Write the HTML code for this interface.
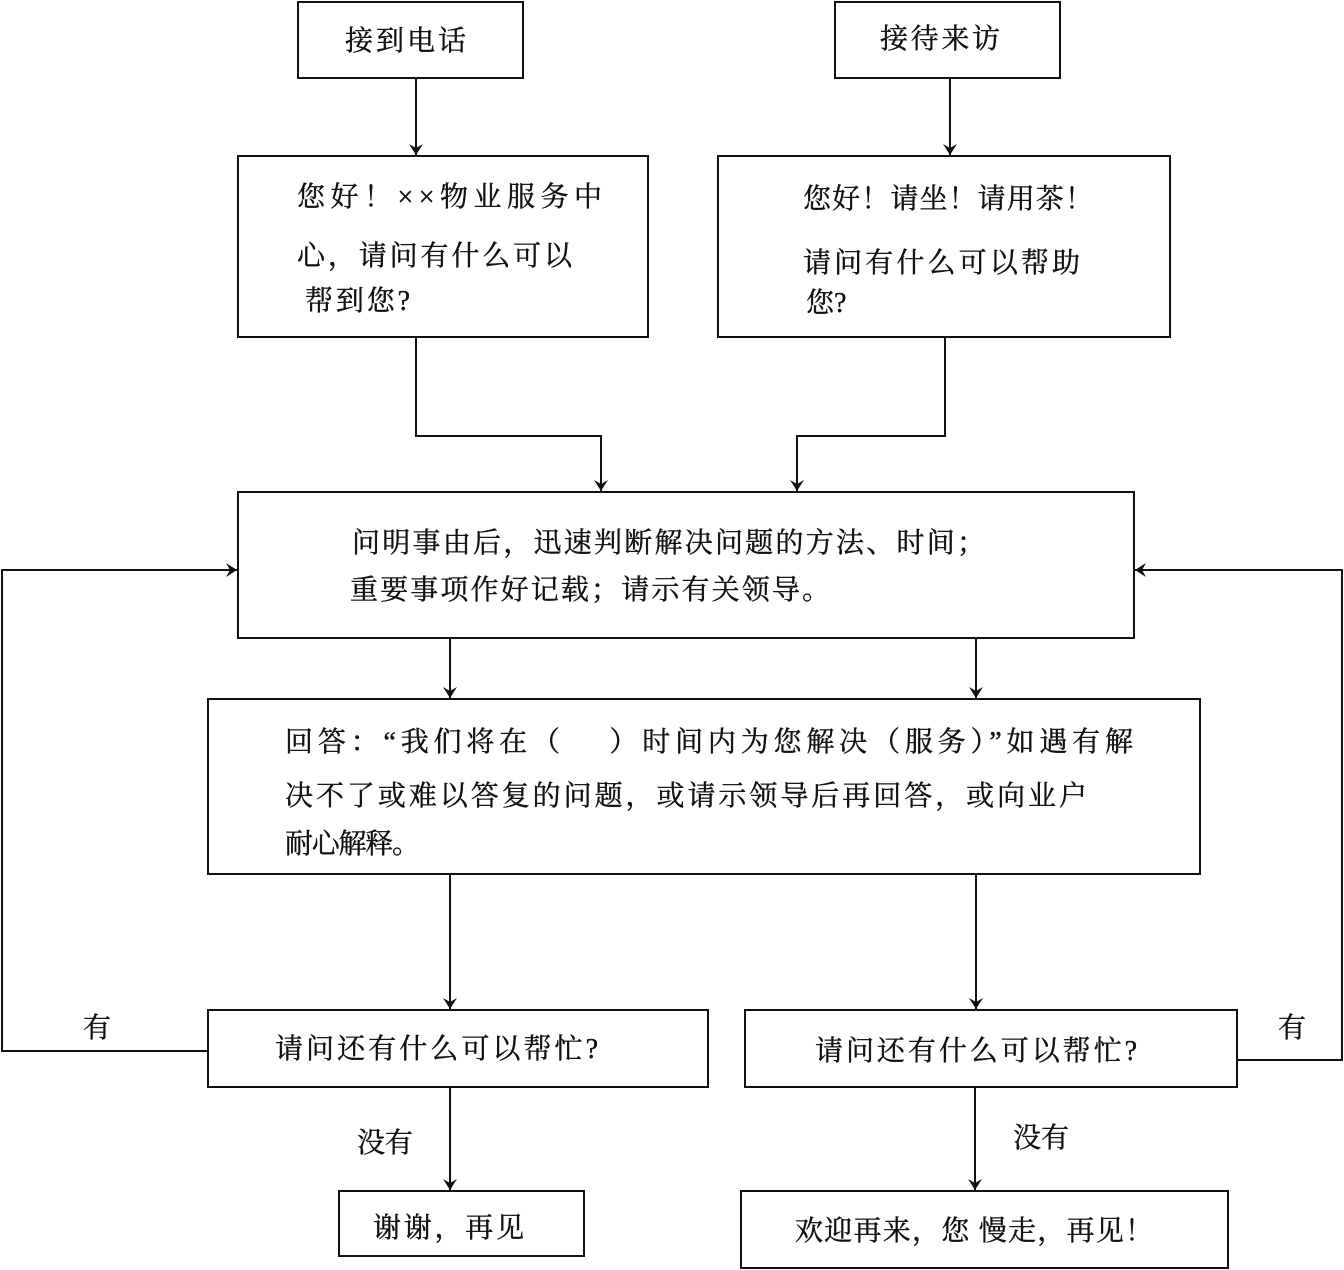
<!DOCTYPE html>
<html><head><meta charset="utf-8"><style>
html,body{margin:0;padding:0;background:#fff;}
svg{display:block;}
text{font-family:"Liberation Serif","Noto Serif CJK SC",serif;font-size:28px;fill:#111;stroke:#111;stroke-width:0.4;}
</style></head><body>
<svg width="1344" height="1270" viewBox="0 0 1344 1270" xmlns="http://www.w3.org/2000/svg">
<defs><marker id="a" markerWidth="12" markerHeight="22" refX="11" refY="11" orient="auto" markerUnits="userSpaceOnUse"><path d="M0,4 L11,11 L0,18 L4,11 Z" fill="#111"/></marker></defs>
<g fill="none" stroke="#111" stroke-width="2">
<rect x="298" y="2" width="225" height="76"/>
<rect x="835" y="2" width="225" height="76"/>
<rect x="238" y="156" width="410" height="181"/>
<rect x="718" y="156" width="452" height="181"/>
<rect x="238" y="492" width="896" height="146"/>
<rect x="208" y="699" width="992" height="175"/>
<rect x="208" y="1010" width="500" height="77"/>
<rect x="745" y="1010" width="492" height="77"/>
<rect x="339" y="1191" width="245" height="65"/>
<rect x="741" y="1191" width="487" height="77"/>
<g marker-end="url(#a)">
<path d="M416 78 V155"/>
<path d="M950 78 V155"/>
<path d="M416 337 V436 H601 V491"/>
<path d="M945 337 V436 H797 V491"/>
<path d="M450 638 V698"/>
<path d="M976 638 V698"/>
<path d="M450 874 V1009"/>
<path d="M976 874 V1009"/>
<path d="M450 1087 V1190"/>
<path d="M975 1087 V1190"/>
<path d="M208 1051 H2 V570 H237"/>
<path d="M1237 1060 H1342 V570 H1135"/>
</g>
</g>
<g lengthAdjust="spacing">
<text x="345" y="50" textLength="121" lengthAdjust="spacing">接到电话</text>
<text x="880" y="48" textLength="120" lengthAdjust="spacing">接待来访</text>
<text x="297" y="206" textLength="305" lengthAdjust="spacing">您好！××物业服务中</text>
<text x="297" y="265" textLength="275" lengthAdjust="spacing">心，请问有什么可以</text>
<text x="305" y="310" textLength="105" lengthAdjust="spacing">帮到您?</text>
<text x="803" y="208" textLength="290" lengthAdjust="spacing">您好！请坐！请用茶！</text>
<text x="803" y="272" textLength="277" lengthAdjust="spacing">请问有什么可以帮助</text>
<text x="806" y="312">您?</text>
<text x="352" y="552" textLength="633" lengthAdjust="spacing">问明事由后，迅速判断解决问题的方法、时间；</text>
<text x="350" y="599" textLength="480" lengthAdjust="spacing">重要事项作好记载；请示有关领导。</text>
<text x="285" y="751" textLength="848" lengthAdjust="spacing">回答：“我们将在（　 ）时间内为您解决（服务）”如遇有解</text>
<text x="285" y="805" textLength="802" lengthAdjust="spacing">决不了或难以答复的问题，或请示领导后再回答，或向业户</text>
<text x="285" y="853" textLength="135" lengthAdjust="spacing">耐心解释。</text>
<text x="275" y="1058" textLength="323" lengthAdjust="spacing">请问还有什么可以帮忙?</text>
<text x="815" y="1060" textLength="322" lengthAdjust="spacing">请问还有什么可以帮忙?</text>
<text x="373" y="1237" textLength="151" lengthAdjust="spacing">谢谢，再见</text>
<text x="795" y="1240" textLength="358" lengthAdjust="spacing">欢迎再来，您 慢走，再见！</text>
<text x="83" y="1037">有</text>
<text x="1278" y="1037">有</text>
<text x="357" y="1152">没有</text>
<text x="1013" y="1147">没有</text>
</g>
</svg>
</body></html>
